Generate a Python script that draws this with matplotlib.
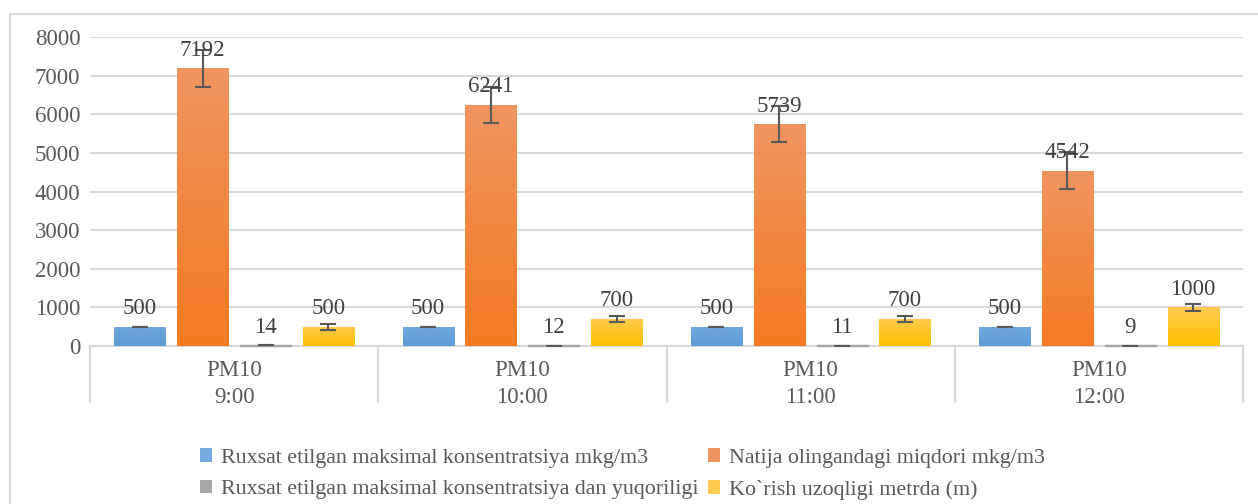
import numpy as np
import matplotlib.pyplot as plt
from matplotlib.patches import Rectangle
from matplotlib.colors import LinearSegmentedColormap

# data
groups = ["PM10\n9:00", "PM10\n10:00", "PM10\n11:00", "PM10\n12:00"]
series = ["Ruxsat etilgan maksimal konsentratsiya mkg/m3",
          "Natija olingandagi miqdori mkg/m3",
          "Ruxsat etilgan maksimal konsentratsiya dan yuqoriligi",
          "Ko`rish uzoqligi metrda (m)"]
ruxsat = [500, 500, 500, 500]
natija = [7192, 6241, 5739, 4542]
yuqori = [14, 12, 11, 9]
korish = [500, 700, 700, 1000]
err_ruxsat = [0, 0, 0, 0]
err_natija = [480, 470, 470, 470]
err_yuqori = [0, 0, 0, 0]
err_korish = [80, 80, 80, 85]

values = [ruxsat, natija, yuqori, korish]
errors = [err_ruxsat, err_natija, err_yuqori, err_korish]
# (top colour, bottom colour)
colors = [("#74aade", "#5a9ad6"), ("#ef9460", "#f57b22"),
          ("#a8a8a8", "#a5a5a5"), ("#ffca50", "#ffc000")]

plt.rcParams['font.family'] = ['Liberation Serif', 'DejaVu Serif']

fig = plt.figure(figsize=(12.58, 5.04), dpi=100)
W, H = 1258, 504
ax = fig.add_axes([90 / W, 1 - 346 / H, (1243 - 90) / W, (346 - 37) / H])

# outer chart border
fig.patches.append(Rectangle((10 / W, -0.1), 1.2, 1 - 14 / H + 0.1,
                             transform=fig.transFigure, fill=False,
                             edgecolor="#d9d9d9", lw=1.5))

x = np.arange(len(groups))
bw = 0.177
step = 0.218
offsets = (np.arange(4) - 1.5) * step

for i in range(4):
    bars = ax.bar(x + offsets[i], values[i], bw, color=colors[i][1],
                  label=series[i], zorder=3)
    cmap = LinearSegmentedColormap.from_list("g", [colors[i][1], colors[i][0]])
    grad = np.linspace(0, 1, 100).reshape(-1, 1)
    for b in bars:
        bx, by = b.get_x(), b.get_y()
        im = ax.imshow(grad, cmap=cmap, aspect="auto", origin="lower",
                       extent=[bx, bx + b.get_width(), by, by + b.get_height()],
                       zorder=3.5)
        im.set_clip_path(b)
    if i == 2:
        # tiny values: draw the thin bar on top of the axis line
        for b in bars:
            ax.add_patch(Rectangle((b.get_x(), 0), b.get_width(), 30,
                                   color=colors[i][1], zorder=3.6, clip_on=False))
    ax.errorbar(x + offsets[i], values[i], yerr=errors[i], fmt="none",
                ecolor="#595959", elinewidth=1.5, capsize=6, capthick=1.5,
                zorder=4)
    for xi, v in zip(x + offsets[i], values[i]):
        ax.annotate(str(v), (xi, v), xytext=(0, 5.5), textcoords="offset points",
                    ha="center", va="bottom", fontsize=16.5, color="#404040",
                    zorder=5)

ax.set_xlim(-0.5, 3.5)
ax.set_ylim(0, 8000)
ax.set_yticks(np.arange(0, 8001, 1000))
ax.tick_params(axis="y", length=0, labelsize=16.5, labelcolor="#595959", pad=7)
ax.set_xticks([])
ax.yaxis.grid(True, color="#d9d9d9", lw=1.5, zorder=0)
ax.set_axisbelow(True)
for s in ["left", "right", "top"]:
    ax.spines[s].set_visible(False)
ax.spines["bottom"].set_color("#d9d9d9")
ax.spines["bottom"].set_linewidth(1.5)

# category axis with separators
ppx = 8000 / (346 - 37)
sep_depth = -(402 - 346) / (346 - 37)
for k in range(len(groups) + 1):
    ax.plot([k / 4, k / 4], [0, sep_depth], transform=ax.transAxes,
            color="#d9d9d9", lw=1.5, clip_on=False)
for xi, g in zip(x, groups):
    ax.text(xi, -(384 - 346) * ppx, g, ha="center", va="center",
            fontsize=16.5, color="#595959", linespacing=1.4)

handles, labels = ax.get_legend_handles_labels()
for h, c in zip(handles, colors):
    h.patches[0].set_facecolor(c[0])
order = [0, 2, 1, 3]
fig.legend([handles[k] for k in order], [labels[k] for k in order],
           loc="center", bbox_to_anchor=(0.495, 1 - 474 / H),
           ncol=2, frameon=False, fontsize=15.8, handlelength=0.55,
           handleheight=0.55, handletextpad=0.4, columnspacing=0.45,
           labelcolor="#595959", labelspacing=0.55)

fig.savefig("out.png", dpi=100)
